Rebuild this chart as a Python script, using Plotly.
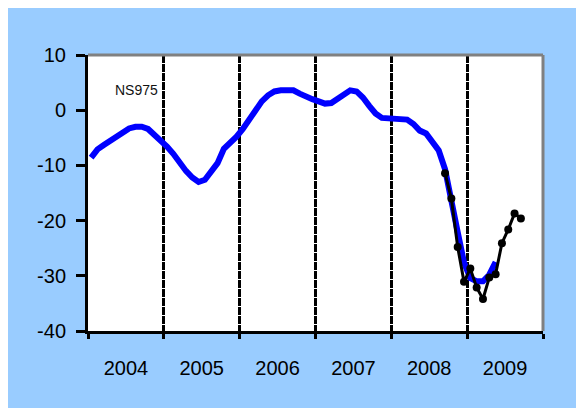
import plotly.graph_objects as go

# Blue series: monthly values, Jan 2004 - May 2009 (mid-month positions)
blue_start_year = 2004
blue_values = [
    -8.6, -7.1, -6.3, -5.6, -4.8, -3.9, -3.3, -3.0, -3.0, -3.4, -4.4, -5.5,
    -6.6, -7.9, -9.6, -11.0, -12.2, -13.0, -12.6, -11.2, -9.6, -7.0, -6.0, -4.8,
    -3.4, -1.7, 0.2, 1.6, 2.7, 3.4, 3.6, 3.6, 3.6, 3.0, 2.4, 2.0,
    1.6, 1.2, 1.3, 2.1, 2.9, 3.6, 3.4, 2.3, 0.8, -0.6, -1.4, -1.5,
    -1.5, -1.5, -1.7, -2.5, -3.7, -4.2, -5.7, -7.3, -10.7, -15.9, -22.1, -27.6,
    -30.4, -31.0, -31.0, -29.8, -27.5,
]
# Black series: monthly values, Sep 2008 - Sep 2009
black_start = (2008, 9)
black_values = [-11.4, -16.0, -24.8, -31.1, -28.7, -32.1, -34.2, -30.3, -29.7,
                -24.1, -21.6, -18.7, -19.6]

year_labels = ["2004", "2005", "2006", "2007", "2008", "2009"]
year_bounds = [2004, 2005, 2006, 2007, 2008, 2009, 2010]
y_ticks = [-40, -30, -20, -10, 0, 10]
y_tick_labels = ["-40", "-30", "-20", "-10", "0", "10"]
series_label = "NS975"

blue_x = [blue_start_year + (i + 0.5) / 12 for i in range(len(blue_values))]
bx0 = black_start[0] + (black_start[1] - 1) / 12
black_x = [bx0 + (k + 0.5) / 12 for k in range(len(black_values))]

FONT = "Arial, Liberation Sans, sans-serif"

fig = go.Figure()
fig.add_trace(go.Scatter(x=blue_x, y=blue_values, mode="lines",
                         line=dict(color="#0000FF", width=6),
                         hoverinfo="skip", showlegend=False))
fig.add_trace(go.Scatter(x=black_x, y=black_values, mode="lines+markers",
                         line=dict(color="#000000", width=3),
                         marker=dict(color="#000000", size=8, symbol="circle"),
                         hoverinfo="skip", showlegend=False))

fig.add_annotation(x=2004.64, y=3.7, text=series_label, showarrow=False,
                   xanchor="center", yanchor="middle",
                   font=dict(family=FONT, size=14, color="#111111"))

shapes = [
    dict(type="line", xref="paper", yref="paper", x0=0, x1=1, y0=1, y1=1,
         line=dict(color="#808080", width=3), layer="above"),
    dict(type="line", xref="paper", yref="paper", x0=1, x1=1, y0=0, y1=1,
         line=dict(color="#808080", width=3), layer="above"),
]

# page body has an 8px margin, so the figure is sized to fit the window
fig.update_layout(
    width=576, height=400,
    margin=dict(l=80, r=41, t=47, b=77, autoexpand=False),
    paper_bgcolor="#99CCFF",
    plot_bgcolor="#FFFFFF",
    shapes=shapes,
    font=dict(family=FONT, size=20, color="#000000"),
    xaxis=dict(
        range=[2004, 2010],
        automargin=False,
        tickmode="array",
        tickvals=[y + 0.5 for y in year_bounds[:-1]],
        ticktext=year_labels,
        ticks="",
        ticklabelstandoff=17,
        showgrid=False,
        zeroline=False,
        showline=True, linecolor="#000000", linewidth=3,
        tickfont=dict(family=FONT, size=20, color="#000000"),
        minor=dict(
            tickmode="array", tickvals=year_bounds,
            ticks="outside", ticklen=5, tickwidth=3, tickcolor="#000000",
            showgrid=True, gridcolor="#000000", gridwidth=3, griddash="8px,1px",
        ),
    ),
    yaxis=dict(
        range=[-40, 10],
        automargin=False,
        tickmode="array",
        tickvals=y_ticks,
        ticktext=y_tick_labels,
        ticks="outside", ticklen=9, tickwidth=3, tickcolor="#000000",
        ticklabelstandoff=6,
        showgrid=False, zeroline=False,
        showline=True, linecolor="#000000", linewidth=3,
        tickfont=dict(family=FONT, size=20, color="#000000"),
    ),
)

fig.write_html("out.html")
